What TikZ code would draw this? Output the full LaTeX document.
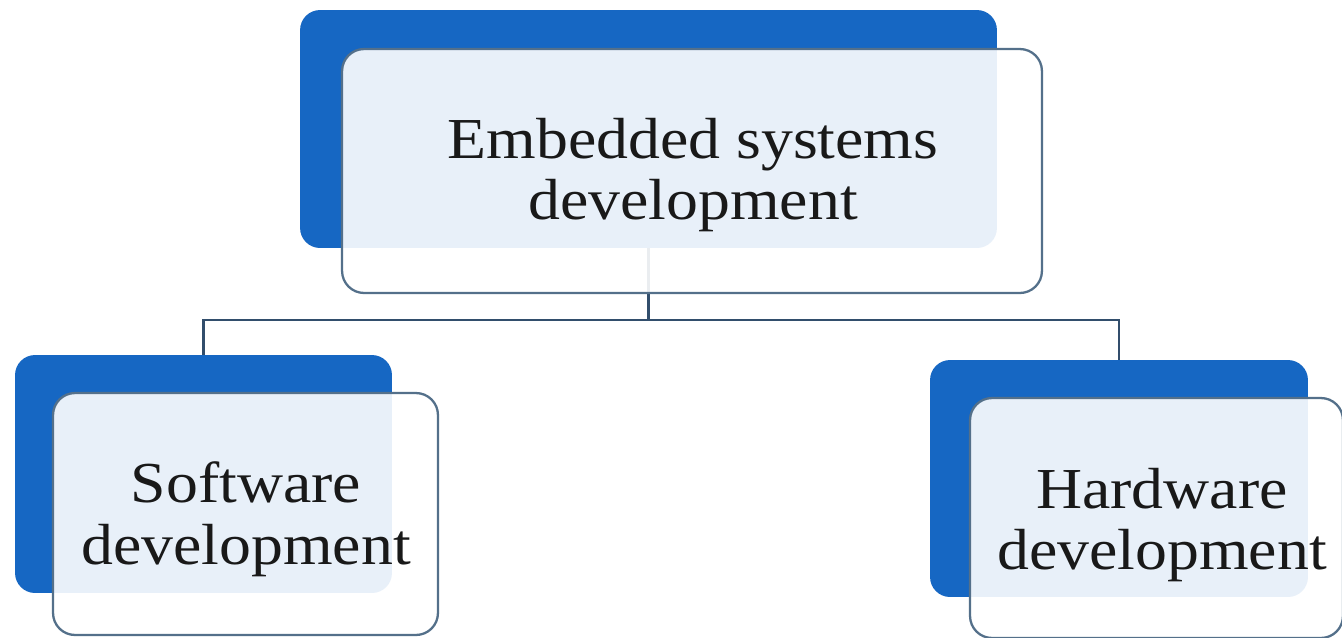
\documentclass[tikz,border=0pt]{standalone}
\usepackage{fontspec}
\setmainfont{Liberation Serif}[FakeStretch=1.1]
\definecolor{backblue}{RGB}{22,103,195}
\definecolor{edgecol}{RGB}{84,112,138}
\definecolor{linecol}{RGB}{50,78,108}
\definecolor{txtcol}{RGB}{25,25,25}
\begin{document}
\begin{tikzpicture}[x=0.02cm,y=-0.02cm,
  backbox/.style={draw=none,fill=backblue,rounded corners=0.4cm,inner sep=0pt},
  frontbox/.style={draw=edgecol,line width=1.3pt,fill=white,fill opacity=0.9,
    rounded corners=0.44cm,inner sep=0pt},
  label/.style={align=center,text=txtcol,inner sep=0pt,
    font=\fontsize{33pt}{35pt}\selectfont},
  conn/.style={draw=linecol,line width=1.6pt}]
\clip (0,0) rectangle (1342,637);
\fill[white] (0,0) rectangle (1342,637);
% back boxes
\node[backbox,minimum width=13.94cm,minimum height=4.76cm] (topback) at (648.5,129) {};
\node[backbox,minimum width=7.54cm,minimum height=4.76cm] (leftback) at (203.5,474) {};
\node[backbox,minimum width=7.56cm,minimum height=4.74cm] (rightback) at (1119,478.5) {};
% connectors
\coordinate (bus) at (648.5,320);
\draw[conn] (topback.south) -- (bus) -| (leftback.north);
\draw[conn] (bus) -| (rightback.north);
% front boxes
\node[frontbox,minimum width=14.0cm,minimum height=4.88cm] (top) at (692,171) {};
\node[frontbox,minimum width=7.7cm,minimum height=4.84cm] (left) at (245.5,514) {};
\node[frontbox,minimum width=7.46cm,minimum height=4.8cm] (right) at (1156.5,518) {};
% texts
\node[label] (toptext) at (693,175) {Embedded systems\\development};
\node[label] (lefttext) at (246,519) {Software\\development};
\node[label] (righttext) at (1162,525) {Hardware\\development};
\end{tikzpicture}
\end{document}
